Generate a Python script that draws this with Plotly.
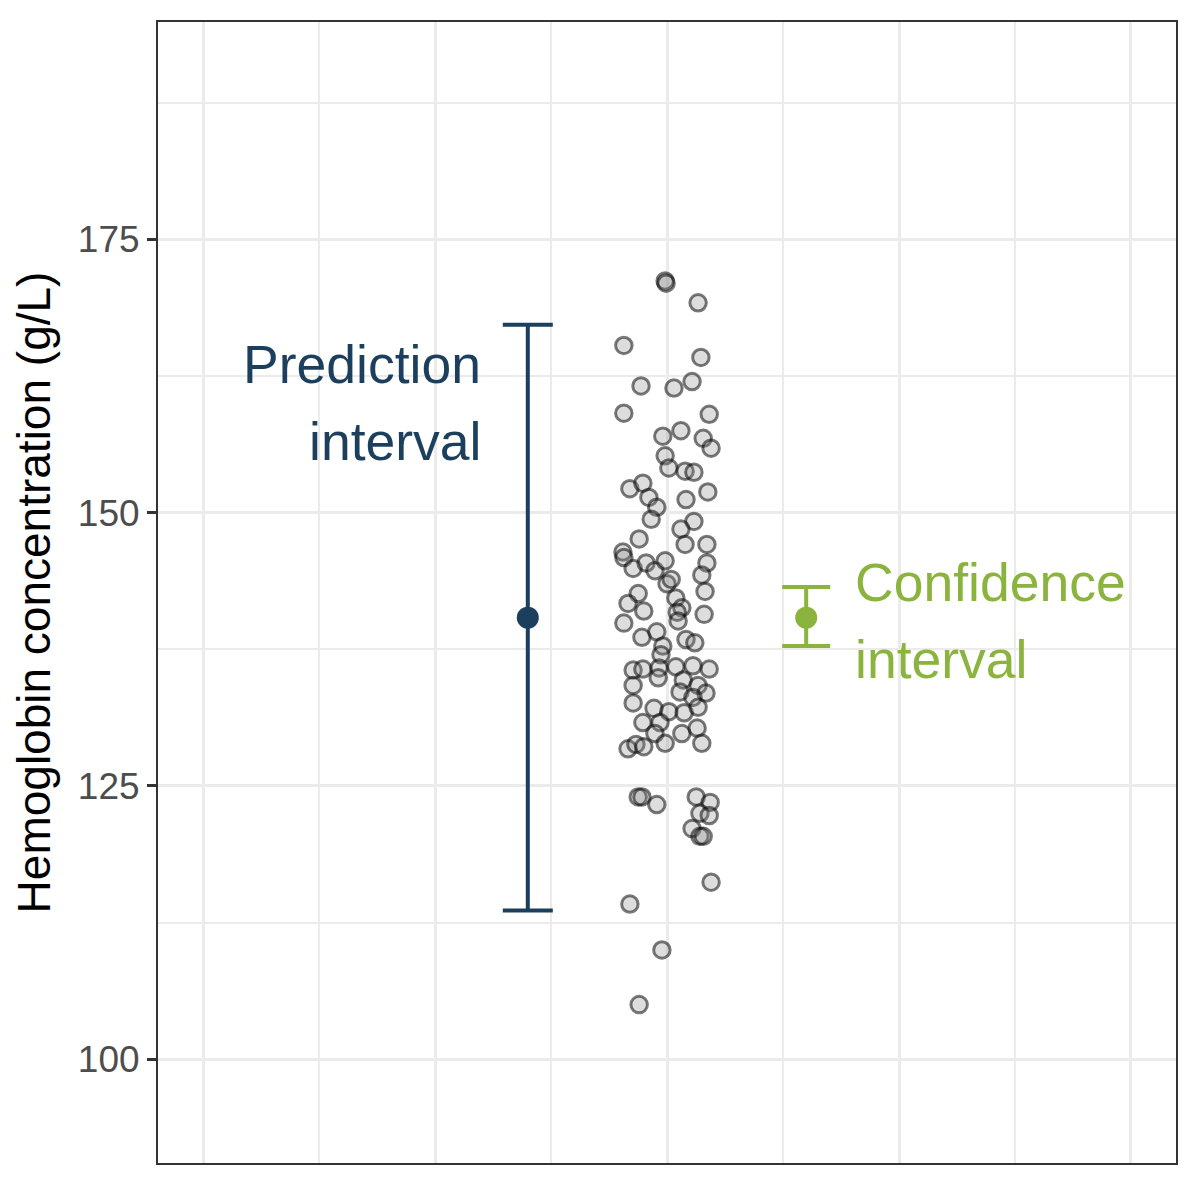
import plotly.graph_objects as go


# ====================================
# DATA
# ====================================

# jittered observations (x = jitter position around 1, y = Hb in g/L)
obs_x = [0.996, 0.998, 1.067, 0.907, 1.073, 0.944, 1.015, 1.054, 0.907, 1.091,
         0.991, 1.030, 1.078, 1.095, 0.996, 1.004, 1.039, 1.058, 0.920, 0.948,
         0.961, 0.978, 1.041, 1.088, 0.966, 1.058, 1.030, 0.940, 1.039, 1.086,
         0.905, 0.907, 0.927, 0.955, 0.974, 0.996, 1.000, 1.009, 1.086, 1.075,
         1.019, 1.032, 1.022, 1.024, 1.082, 0.938, 0.916, 0.950, 1.080, 0.907,
         0.946, 0.978, 1.041, 1.060, 0.991, 0.987, 0.927, 0.948, 0.983, 1.019,
         1.056, 1.091, 0.981, 1.035, 0.927, 1.067, 1.028, 1.084, 1.056, 0.927,
         0.972, 1.004, 1.037, 1.067, 0.948, 0.985, 0.974, 1.032, 1.065, 0.996,
         0.916, 0.933, 0.950, 1.075, 0.938, 0.946, 0.978, 1.063, 1.093, 1.071,
         1.091, 1.054, 1.071, 1.078, 1.095, 0.920, 0.989, 0.940]
obs_y = [171.2, 171.0, 169.2, 165.3, 164.2, 161.6, 161.4, 162.0, 159.1, 159.0,
         157.0, 157.5, 156.8, 155.9, 155.2, 154.1, 153.8, 153.7, 152.2, 152.7,
         151.4, 150.5, 151.2, 151.9, 149.4, 149.2, 148.5, 147.6, 147.1, 147.1,
         146.4, 145.9, 144.9, 145.4, 144.7, 145.6, 143.5, 143.9, 145.4, 144.3,
         142.2, 141.3, 140.9, 140.1, 142.8, 142.6, 141.7, 141.0, 140.7, 139.9,
         138.6, 139.1, 138.4, 138.1, 137.8, 137.0, 135.6, 135.7, 135.8, 135.9,
         136.0, 135.7, 134.9, 134.7, 134.2, 134.2, 133.6, 133.5, 133.1, 132.6,
         132.1, 131.8, 131.7, 132.2, 130.8, 130.8, 129.8, 129.8, 130.3, 128.9,
         128.4, 128.8, 128.6, 128.9, 124.0, 124.0, 123.3, 124.0, 123.5, 122.5,
         122.3, 121.1, 120.4, 120.4, 116.2, 114.2, 110.0, 105.0]

# intervals
pred_x = [0.70]
pred_mean = [140.4]
pred_lower = [113.6]
pred_upper = [167.2]

conf_x = [1.30]
conf_mean = [140.4]
conf_lower = [137.8]
conf_upper = [143.2]

NAVY = "#1c3f5d"
GREEN = "#8bb43e"
FONT = "Liberation Sans, Arial, sans-serif"


# ====================================
# FIGURE
# ====================================

fig = go.Figure()

fig.add_trace(go.Scatter(
    x=obs_x,
    y=obs_y,
    mode="markers",
    marker=dict(
        size=16.5,
        color="rgba(128, 128, 128, 0.27)",
        line=dict(width=3, color="rgba(0, 0, 0, 0.52)")
    ),
    showlegend=False
))

fig.add_trace(go.Scatter(
    x=pred_x,
    y=pred_mean,
    mode="markers",
    marker=dict(size=22, color=NAVY),
    error_y=dict(
        type="data",
        symmetric=False,
        array=[u - m for u, m in zip(pred_upper, pred_mean)],
        arrayminus=[m - l for l, m in zip(pred_lower, pred_mean)],
        color=NAVY,
        thickness=4,
        width=25
    ),
    showlegend=False
))

fig.add_trace(go.Scatter(
    x=conf_x,
    y=conf_mean,
    mode="markers",
    marker=dict(size=22, color=GREEN),
    error_y=dict(
        type="data",
        symmetric=False,
        array=[u - m for u, m in zip(conf_upper, conf_mean)],
        arrayminus=[m - l for l, m in zip(conf_lower, conf_mean)],
        color=GREEN,
        thickness=4,
        width=24
    ),
    showlegend=False
))

# labels next to the intervals
labels = [
    ("Prediction", 0.603, 163.6, "right", NAVY),
    ("interval", 0.603, 156.5, "right", NAVY),
    ("Confidence", 1.400, 143.6, "left", GREEN),
    ("interval", 1.400, 136.6, "left", GREEN),
]
for text, lx, ly, anchor, col in labels:
    fig.add_annotation(
        x=lx, y=ly, text=text, showarrow=False,
        xanchor=anchor, yanchor="middle",
        font=dict(size=53.5, color=col, family=FONT)
    )


# ====================================
# LAYOUT
# ====================================

# page body adds an 8px offset, margins account for it
fig.update_layout(
    width=1200,
    height=1200,
    paper_bgcolor="white",
    plot_bgcolor="white",
    margin=dict(l=150, r=32, t=12, b=45),
    font=dict(family=FONT),
    xaxis=dict(
        range=[-0.097, 2.097],
        tick0=0,
        dtick=0.5,
        showticklabels=False,
        ticks="",
        showgrid=True,
        gridcolor="#ebebeb",
        gridwidth=3,
        minor=dict(dtick=0.25, showgrid=True, gridcolor="#ebebeb", gridwidth=1.5),
        zeroline=False,
        showline=True,
        mirror=True,
        linecolor="#333333",
        linewidth=2
    ),
    yaxis=dict(
        range=[90.51, 194.89],
        tickvals=[100, 125, 150, 175],
        ticks="outside",
        ticklen=9,
        tickwidth=3,
        tickcolor="#333333",
        tickfont=dict(size=37, color="#4d4d4d", family=FONT),
        showgrid=True,
        gridcolor="#ebebeb",
        gridwidth=3,
        minor=dict(tickvals=[112.5, 137.5, 162.5, 187.5], showgrid=True,
                   gridcolor="#ebebeb", gridwidth=1.5),
        zeroline=False,
        showline=True,
        mirror=True,
        linecolor="#333333",
        linewidth=2,
        title=dict(text="Hemoglobin concentration (g/L)",
                   font=dict(size=46, color="black", family=FONT),
                   standoff=16)
    )
)

fig.write_html("out.html")
